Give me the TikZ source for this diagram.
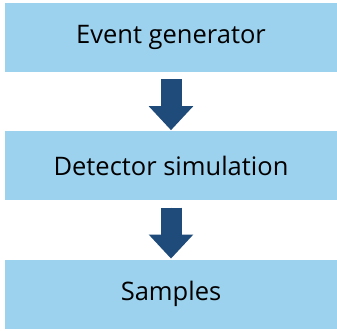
\documentclass[tikz,border=0pt]{standalone}
\usepackage{fontspec}
\setmainfont{Open Sans}
\usetikzlibrary{arrows.meta,positioning}
\definecolor{boxblue}{HTML}{9DD2EE}
\definecolor{arrowblue}{HTML}{1F4B7A}

\begin{document}
\begin{tikzpicture}[
      stage_box/.style={
         rectangle,
         fill=boxblue,
         draw=none,
         inner sep=0pt,
         minimum width=332pt,
         minimum height=69pt,
         font=\fontsize{25.5}{30}\selectfont},
      block_arrow/.style={
         -{Triangle[width=43pt,length=24pt]},
         line width=21pt,
         draw=arrowblue,
         fill=arrowblue,
         shorten <=7pt,
         shorten >=1pt}
]
      \useasboundingbox (0pt,0pt) rectangle (337pt,-330pt);

      %stages
      \node[stage_box] (gen) at (171pt,-37.5pt) {Event generator};
      \node[stage_box,below=59pt of gen] (sim) {Detector simulation};
      \node[stage_box,below=59pt of sim] (smp) {Samples};

      \draw [block_arrow] (gen) -- (sim);
      \draw [block_arrow] (sim) -- (smp);

\end{tikzpicture}
\end{document}
